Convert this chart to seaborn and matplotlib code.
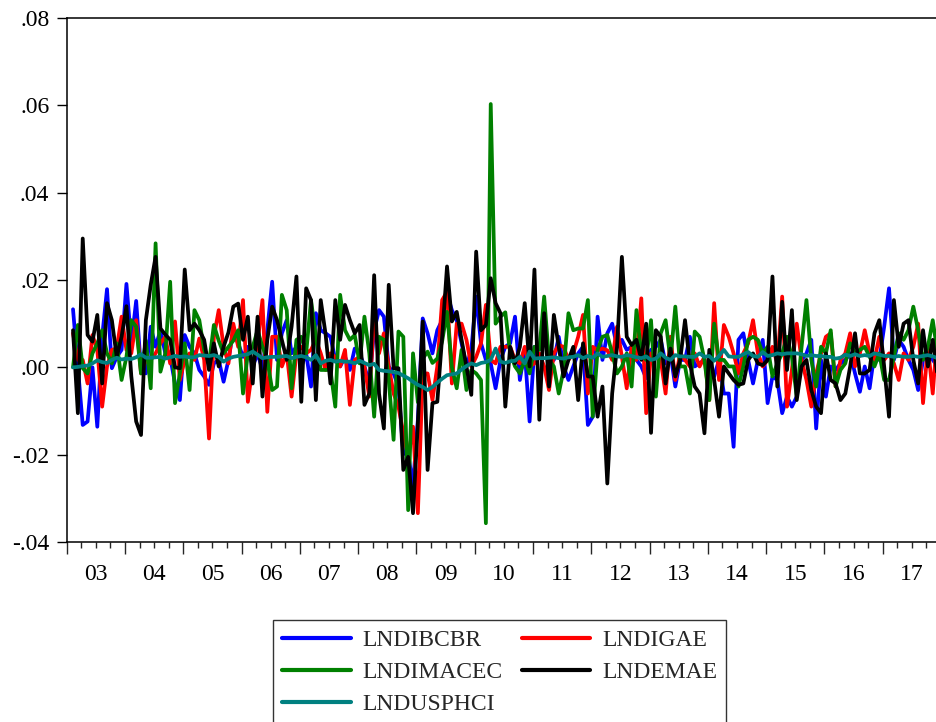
import numpy as np
import pandas as pd
import matplotlib
matplotlib.use("Agg")
import matplotlib.pyplot as plt
from matplotlib.ticker import FixedLocator, FuncFormatter
import seaborn as sns

# Monthly log-differences, Feb 2003 .. Dec 2017, values in per mille (x 0.001)
start_year, start_month = 2003, 2
series_names = ["LNDIBCBR", "LNDIGAE", "LNDIMACEC", "LNDEMAE", "LNDUSPHCI"]
series_colors = ["#0000FF", "#FF0000", "#008000", "#000000", "#008080"]
year_labels = ["03", "04", "05", "06", "07", "08", "09", "10", "11", "12", "13", "14", "15", "16", "17"]
y_ticks = [-0.04, -0.02, 0.00, 0.02, 0.04, 0.06, 0.08]

lndibcbr_permil = [
    13.3, 0.0, -13.2, -12.4, 0.0, -13.6, 7.0, 17.9, -0.2, 2.4, 4.0,
    19.1, 5.5, 15.2, -0.6, -1.4, 9.3, 4.7, 8.5, 3.2, 2.4, -3.7, -7.5,
    7.4, 4.7, 3.2, -0.6, -2.1, -4.0, 0.9, 1.7, -3.3, 1.7, 8.5, 5.5,
    2.4, 4.7, 0.2, 3.2, -0.6, 8.5, 19.6, 1.7, 7.8, 10.8, 3.2, 4.7,
    0.2, 3.2, -4.4, 12.4, 8.5, 7.8, 7.0, 1.7, 0.2, 2.4, -0.6, 4.3,
    3.2, 0.2, -3.7, 8.5, 13.1, 11.6, 0.2, -1.4, -4.4, -19.7, -20.0, -27.0,
    -12.0, 11.2, 7.8, 3.2, 8.5, 10.8, 16.9, 13.1, 10.8, 5.5, 0.2, 4.0,
    16.2, 5.5, 1.7, 0.9, -4.8, 1.7, 4.7, 5.5, 11.6, -2.9, 3.9, -12.4,
    4.7, 4.7, 8.5, 3.2, 1.7, 7.0, 0.2, -2.9, 0.2, 3.2, 4.7, -13.2,
    -11.3, 11.6, 1.7, 7.8, 10.0, 4.7, 6.3, 4.0, 4.7, 1.7, 0.2, -2.5,
    4.0, 4.7, 6.3, 0.9, 3.2, -4.4, 1.7, 1.7, 7.0, 0.2, 0.9, 1.7,
    -1.4, -2.1, 1.7, -6.0, -6.0, -18.2, 6.3, 7.8, 1.7, -3.7, 1.7, 6.3,
    -8.2, -2.1, -2.9, -10.5, -6.7, -9.0, -6.7, 1.7, 3.2, 6.3, -14.0, 1.7,
    -6.7, 0.2, -0.6, 0.9, 1.7, 3.2, -1.4, -5.6, 0.2, -4.8, 3.2, 1.7,
    9.3, 18.1, 1.7, 6.3, 4.7, 1.7, -0.6, -5.2, 1.7, 4.0, 1.7, 0.2,
]

lndigae_permil = [
    7.8, 1.7, 1.7, -3.7, 7.4, 4.0, -9.0, 0.2, 4.0, 4.3, 11.6,
    4.0, 3.2, 10.8, -1.4, 1.7, 1.7, 3.2, 5.5, 7.0, 0.9, 10.5, -2.9,
    1.7, 3.2, 1.7, 6.6, 1.7, -16.3, 7.0, 13.1, 4.7, 0.9, 10.0, 4.7,
    15.4, -7.9, 0.2, 5.5, 15.4, -10.2, 7.0, 7.0, 0.2, 3.2, -6.7, 3.2,
    4.7, 3.2, 4.0, 6.3, 3.2, -0.6, 3.2, 2.4, 0.2, 4.0, -8.6, 1.7,
    2.4, 0.2, -6.7, 11.6, 3.2, 7.8, 0.2, -6.0, -9.0, -15.0, -20.5, -13.6,
    -33.4, -1.4, -1.4, -7.5, 0.2, 15.4, 17.3, -3.7, 10.0, 10.0, 6.3, 0.2,
    2.4, 5.5, 14.3, 1.7, 0.9, 4.7, 4.7, 4.7, 1.7, 0.9, 4.7, 0.2,
    0.9, 3.2, 0.2, -5.2, 3.2, 5.1, 4.7, 1.7, 3.2, 7.0, 12.0, -6.0,
    4.7, 3.9, 4.3, 3.9, 1.7, 9.3, 2.4, -4.8, 4.7, 1.7, 15.8, -10.5,
    3.2, 2.4, 1.7, -6.0, 7.0, -2.9, 3.2, 1.7, 0.2, 3.2, 0.2, 2.4,
    -7.5, 14.7, -2.9, 9.7, 7.0, 3.2, -1.4, 3.2, 5.5, 10.8, 3.2, 0.2,
    1.7, 4.7, 0.9, 16.2, -9.0, -0.6, 10.0, 1.7, -2.9, -9.0, -1.4, 3.2,
    7.0, 7.8, -4.4, 1.7, 3.2, 7.8, 0.2, 3.2, 8.5, 3.2, 1.7, 7.0,
    1.7, 3.2, 0.9, -2.9, 3.2, 1.7, 4.7, 10.0, -8.2, 4.7, -6.0, 8.5,
]

lndimacec_permil = [
    0.0, 9.7, -0.2, -1.4, 3.2, 5.5, 8.5, 3.2, 0.9, 5.5, -2.9,
    2.4, 10.8, 9.3, -1.4, 6.1, -4.8, 28.4, -1.0, 3.2, 19.6, -8.2, -1.4,
    5.5, -5.2, 13.1, 10.8, 4.0, 0.9, 9.7, 6.1, 3.2, 4.7, 6.1, 8.5,
    -6.0, 3.2, 4.7, 8.5, 4.7, 1.7, -5.2, -4.4, 16.6, 13.1, -4.8, 6.3,
    7.0, 3.2, 15.4, 7.0, -0.6, -0.6, -0.6, -9.0, 16.6, 8.5, 6.3, 7.4,
    0.9, 11.6, 3.2, -11.3, 7.0, 6.3, -2.9, -16.6, 8.2, 7.0, -32.7, 3.2,
    -8.0, 2.0, 3.6, 1.0, 2.0, 6.0, 12.7, 0.0, -4.8, 4.0, -5.2, -0.6,
    -1.4, -2.9, -35.7, 60.3, 10.0, 11.6, 12.6, 3.2, 0.2, -1.4, 1.7, -1.4,
    4.7, 4.0, 16.2, 1.7, 0.2, -6.0, -0.6, 12.4, 8.5, 8.9, 8.9, 15.4,
    -11.3, 4.0, 7.0, 7.4, 3.2, -1.4, 0.2, 3.2, -4.4, 13.1, 3.2, 1.7,
    10.8, -6.7, 7.8, 10.8, 1.7, 13.9, 0.2, 0.2, -6.0, 8.2, 7.0, 1.7,
    -7.5, 10.0, 1.7, 1.7, 0.2, 0.2, -4.4, 0.2, 6.3, 7.0, 6.3, 3.2,
    4.7, -2.1, 0.9, 3.2, 7.0, 2.4, -6.7, 4.7, 15.4, 1.7, -4.4, 4.7,
    3.2, 8.5, -4.4, -0.6, 0.9, 5.5, 3.2, 4.0, 4.7, 2.4, 0.2, 3.2,
    -2.9, -2.9, 2.4, 7.8, 6.3, 8.5, 13.9, 8.5, 1.7, 4.7, 10.8, 3.2,
]

lndemae_permil = [
    8.5, -10.5, 29.5, 7.4, 5.9, 12.0, -3.7, 14.7, 10.8, 2.4, 7.0,
    14.0, -2.0, -12.4, -15.5, 10.8, 18.9, 25.3, 8.9, 7.5, 6.3, 0.0, -0.2,
    22.4, 8.5, 10.0, 8.5, 6.3, -0.6, 5.5, 0.2, 4.7, 8.0, 13.9, 14.6,
    6.3, 11.6, -3.7, 11.6, -6.7, 6.3, 13.9, 10.8, 6.3, 1.7, 9.3, 20.8,
    -7.9, 18.1, 15.4, -7.5, 15.4, 7.6, -3.7, 15.4, 6.3, 14.3, 10.8, 7.8,
    9.7, -8.6, -6.0, 21.1, -6.0, -14.0, 18.9, -0.2, -0.2, -23.5, -20.5, -33.4,
    -12.8, 10.5, -23.5, -8.2, -7.9, 7.0, 23.1, 10.5, 12.7, 6.3, 0.2, -6.3,
    26.5, 8.5, 9.7, 20.4, 14.7, 12.4, -9.0, 4.7, 0.9, 4.7, 14.7, 0.2,
    22.4, -12.0, 12.4, -4.4, 12.0, 4.7, -2.1, 1.7, 4.7, -7.5, 5.5, -2.1,
    -2.1, -11.3, -4.4, -26.6, -6.0, 4.7, 25.3, 7.0, 5.1, 6.3, 1.7, 10.0,
    -15.0, 8.5, 7.0, -3.7, 4.3, -2.1, 1.7, 10.8, 0.9, -4.4, -6.0, -15.1,
    4.0, -2.9, -11.3, 0.2, -1.4, -2.9, -4.0, -3.7, 1.7, 3.2, 0.9, 0.5,
    1.7, 20.8, -4.4, 15.0, -0.6, 13.1, -7.5, 0.2, 1.7, -5.2, -9.0, -10.5,
    3.2, -2.9, -3.7, -7.5, -6.0, 0.2, 7.8, -1.4, -1.4, -0.6, 7.8, 10.8,
    0.2, -11.3, 15.4, 4.7, 10.0, 10.8, 1.7, -3.7, 8.5, 0.2, 6.3, -2.1,
]

lndusphci_permil = [
    0.0, 0.1, 0.3, 0.4, 0.9, 1.6, 1.2, 1.0, 1.7, 2.2, 1.8,
    2.0, 1.9, 2.3, 3.0, 2.2, 2.2, 2.3, 2.4, 2.0, 2.3, 2.6, 2.4,
    2.5, 2.3, 2.3, 2.8, 2.7, 2.6, 2.8, 2.4, 1.3, 2.0, 2.4, 2.6,
    2.8, 3.0, 3.6, 2.9, 2.1, 2.3, 2.4, 2.4, 2.5, 2.6, 2.1, 2.4,
    2.6, 2.3, 1.7, 2.8, 0.9, 1.5, 1.7, 1.3, 1.5, 1.3, 1.3, 0.9,
    1.5, 1.0, 0.5, 0.8, -0.6, -0.8, -0.9, -1.1, -1.3, -1.9, -2.5, -3.3,
    -4.0, -4.5, -5.2, -4.5, -3.5, -2.6, -1.8, -1.6, -1.4, -0.5, 0.3, 0.9,
    0.5, 1.0, 1.2, 1.7, 4.3, 1.3, 1.0, 1.4, 1.5, 2.4, 0.9, 3.6,
    2.0, 2.1, 2.1, 2.2, 2.3, 2.1, 2.0, 2.3, 2.4, 2.8, 2.1, 2.6,
    2.2, 3.2, 2.4, 2.6, 2.8, 2.5, 2.4, 2.8, 2.6, 2.3, 2.1, 2.5,
    1.7, 2.0, 3.2, 2.2, 1.7, 2.8, 2.5, 2.5, 2.4, 2.4, 3.2, 2.4,
    2.6, 1.5, 2.6, 4.0, 2.5, 2.4, 2.4, 3.0, 3.5, 2.6, 2.4, 3.5,
    2.6, 2.8, 3.2, 3.0, 3.2, 3.2, 3.2, 3.0, 2.6, 2.8, 2.6, 2.6,
    2.4, 2.4, 2.0, 2.2, 2.9, 2.6, 3.0, 2.6, 2.8, 2.6, 3.2, 2.9,
    2.6, 2.6, 2.4, 2.6, 2.4, 2.4, 2.6, 2.4, 2.6, 2.8, 2.5, 2.1,
]

all_series = [lndibcbr_permil, lndigae_permil, lndimacec_permil, lndemae_permil, lndusphci_permil]

# ---- build long table -------------------------------------------------------
n = len(lndemae_permil)
dates = pd.date_range(f"{start_year}-{start_month:02d}-01", periods=n, freq="MS")
t = dates.year + (dates.month - 1 + 0.3) / 12.0
frames = []
for name, vals in zip(series_names, all_series):
    frames.append(pd.DataFrame({"t": t, "value": np.array(vals) / 1000.0, "series": name}))
df = pd.concat(frames, ignore_index=True)

# ---- figure -----------------------------------------------------------------
sns.set_style("ticks")
plt.rcParams["font.family"] = ["Liberation Serif", "DejaVu Serif"]
plt.rcParams["axes.linewidth"] = 1.1

W, H = 937, 722
fig = plt.figure(figsize=(W / 100, H / 100), dpi=100)
x0, x1, ytop, ybot = 66.7, 941.0, 18.0, 542.0
ax = fig.add_axes([x0 / W, 1 - ybot / H, (x1 - x0) / W, (ybot - ytop) / H])

sns.lineplot(data=df, x="t", y="value", hue="series", hue_order=series_names,
             palette=dict(zip(series_names, series_colors)), linewidth=2.7,
             legend=False, ax=ax, estimator=None, sort=False)
for ln in ax.get_lines():
    ln.set_solid_joinstyle("round")

ax.set_xlim(2003.0, 2018.0)
ax.set_ylim(-0.04, 0.08)
ax.set_xlabel("")
ax.set_ylabel("")
for s in ax.spines.values():
    s.set_color("black")
    s.set_visible(True)

ax.set_yticks(y_ticks)
ax.yaxis.set_major_formatter(FuncFormatter(lambda v, p: ("-" if v < -1e-9 else "") + f"{abs(v):.2f}".lstrip("0")))
ax.tick_params(axis="y", direction="out", length=7.5, width=1.0, pad=5, labelsize=17, colors="black")

years = list(range(2003, 2019))
ax.set_xticks(years)
ax.set_xticklabels([])
ax.xaxis.set_minor_locator(FixedLocator([y + q / 4 for y in range(2003, 2018) for q in (1, 2, 3)]))
ax.tick_params(axis="x", which="major", direction="out", length=8.6, width=1.0)
ax.tick_params(axis="x", which="minor", direction="out", length=4.3, width=1.0)

sec = ax.secondary_xaxis("bottom")
sec.set_xticks([y + 0.5 for y in range(2003, 2018)], labels=year_labels)
sec.tick_params(length=0, pad=16, labelsize=17, colors="black")
sec.spines["bottom"].set_visible(False)

handles = ax.get_lines()[:5]
order = [0, 2, 4, 1, 3]
leg = fig.legend([handles[i] for i in order], [series_names[i] for i in order],
                 loc="upper left", bbox_to_anchor=(273 / W, 1 - 620 / H),
                 bbox_transform=fig.transFigure, ncol=2, fontsize=17,
                 frameon=True, fancybox=False, framealpha=1, edgecolor="#333333",
                 borderaxespad=0, borderpad=0.4, handlelength=2.9,
                 handletextpad=0.5, columnspacing=0.8, labelspacing=0.45)
leg.get_frame().set_linewidth(1.0)
for lh in leg.get_lines():
    lh.set_linewidth(3.0)

fig.savefig("out.png", dpi=100)
